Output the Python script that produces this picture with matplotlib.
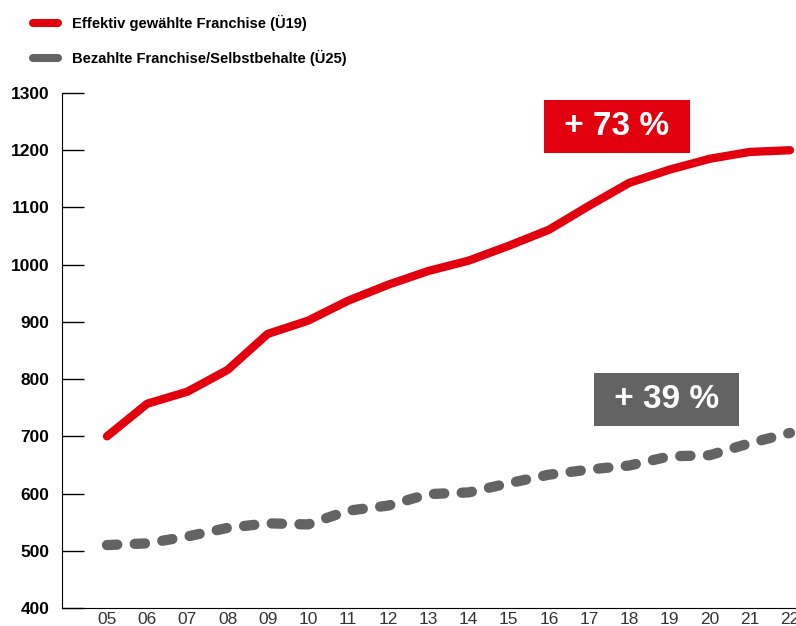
import numpy as np
import matplotlib.pyplot as plt
from matplotlib.lines import Line2D

plt.rcParams['font.family'] = ['Liberation Sans', 'DejaVu Sans']

years = ["05", "06", "07", "08", "09", "10", "11", "12", "13", "14", "15",
         "16", "17", "18", "19", "20", "21", "22"]
gewaehlt = [700, 757, 778, 816, 879, 902, 937, 965, 989, 1007, 1033,
            1061, 1103, 1143, 1166, 1185, 1197, 1200]
bezahlt = [510, 513, 525, 540, 548, 546, 570, 579, 599, 602, 618,
           633, 642, 649, 665, 667, 688, 706]
label_red = "Effektiv gewählte Franchise (Ü19)"
label_grey = "Bezahlte Franchise/Selbstbehalte (Ü25)"

red = "#e2000f"
grey = "#636363"

x = np.arange(5, 5 + len(years))

fig = plt.figure(figsize=(7.96, 6.26), dpi=100)
ax = fig.add_axes([62 / 796, 18 / 626, 734 / 796, 515 / 626])

ax.plot(x, gewaehlt, color=red, lw=6, solid_capstyle='round', solid_joinstyle='round')
ln, = ax.plot(x, bezahlt, color=grey, lw=7.4, dash_capstyle='round')
ln.set_dashes((1.0, 1.7))

ax.set_xlim(3.88, 22.15)
ax.set_ylim(400, 1300)
ax.set_yticks(np.arange(400, 1301, 100))
ax.set_xticks(x)
ax.set_xticklabels(years)

for s in ['top', 'right']:
    ax.spines[s].set_visible(False)
ax.tick_params(axis='y', direction='in', length=16, width=1, labelsize=12.5, pad=9)
ax.tick_params(axis='x', length=0, labelsize=12.5, pad=3, labelcolor='#333333')
for t in ax.get_yticklabels():
    t.set_fontweight('bold')

ax.text(17.69, 1242, " + 73 % ", color='white', fontsize=24, fontweight='bold',
        ha='center', va='center',
        bbox=dict(boxstyle='square,pad=0.33', fc=red, ec='none'))
ax.text(18.93, 765, " + 39 % ", color='white', fontsize=24, fontweight='bold',
        ha='center', va='center',
        bbox=dict(boxstyle='square,pad=0.33', fc=grey, ec='none'))

handles = [Line2D([], [], color=red, lw=5.8, solid_capstyle='round'),
           Line2D([], [], color=grey, lw=5.8, solid_capstyle='round')]
fig.legend(handles, [label_red, label_grey], loc='upper left',
           bbox_to_anchor=(0.029, 0.993), frameon=False, handlelength=1.7,
           handletextpad=0.95, labelspacing=1.3, borderaxespad=0.3,
           prop={'weight': 'bold', 'size': 10.6})

fig.savefig("out.png", dpi=100)
